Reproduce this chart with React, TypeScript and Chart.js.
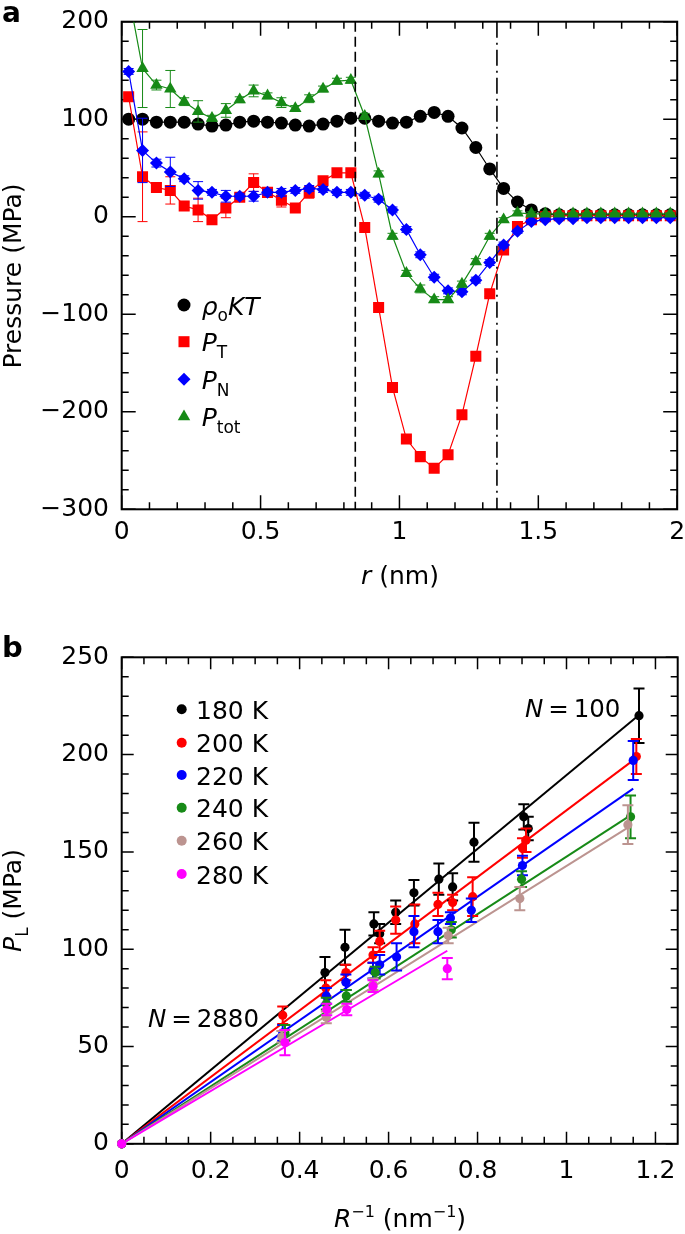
import React, { useEffect, useRef } from 'react';
import { Chart, registerables } from 'chart.js';

Chart.register(...registerables);

const FONT = '"DejaVu Sans", "Liberation Sans", Arial, sans-serif';
const W = 685;
const H_A = 617;
const H_B = 617;

// ---------------- Panel a data ----------------
const R_NM = [0.025, 0.075, 0.125, 0.175, 0.225, 0.275, 0.325, 0.375, 0.425, 0.475,
  0.525, 0.575, 0.625, 0.675, 0.725, 0.775, 0.825, 0.875, 0.925, 0.975,
  1.025, 1.075, 1.125, 1.175, 1.225, 1.275, 1.325, 1.375, 1.425, 1.475,
  1.525, 1.575, 1.625, 1.675, 1.725, 1.775, 1.825, 1.875, 1.925, 1.975];
const RHO_KT = [100, 100, 97, 97, 97, 95, 93, 94, 97, 98, 97, 96, 94, 93, 95, 98, 101, 101, 98, 96,
  97, 103, 107, 103, 91, 71, 49, 29, 15, 7, 3, 2, 2, 2, 2, 2, 2, 2, 2, 2];
const P_T = [123, 41, 30, 27, 11, 7, -3, 9, 20, 35, 25, 17, 9, 25, 37, 45, 45, -11, -93, -175,
  -228, -246, -258, -244, -203, -143, -79, -34, -10, -3, 0, 1, 1, 1, 1, 1, 1, 1, 1, 1];
const P_T_ERR = [3, 46, 4, 14, 4, 12, 3, 10, 3, 9, 3, 7, 3, 6, 3, 4, 3, 3, 3, 3,
  3, 3, 3, 3, 3, 4, 3, 3, 2, 2, 1, 1, 1, 1, 1, 1, 1, 1, 1, 1];
const P_N = [149, 68, 55, 46, 39, 27, 25, 21, 21, 21, 25, 25, 27, 29, 28, 25, 25, 22, 18, 7,
  -13, -39, -62, -76, -77, -65, -47, -29, -15, -5, -3, -2, -2, -1, -1, -1, -1, -1, -1, -1];
const P_N_ERR = [3, 33, 4, 15, 3, 9, 3, 6, 3, 5, 3, 4, 3, 3, 3, 3, 3, 3, 3, 3,
  3, 3, 3, 3, 3, 3, 3, 3, 2, 2, 1, 1, 1, 1, 1, 1, 1, 1, 1, 1];
const P_TOT = [228, 152, 135, 131, 118, 108, 101, 109, 120, 129, 124, 117, 111, 121, 131, 139, 140, 103, 44, -20,
  -58, -74, -85, -85, -69, -46, -20, -3, 4, 3, 3, 3, 3, 3, 3, 3, 3, 3, 3, 3];
const P_TOT_ERR = [5, 40, 5, 19, 4, 11, 3, 7, 3, 6, 3, 5, 3, 4, 3, 3, 3, 3, 3, 3,
  3, 4, 3, 3, 3, 3, 3, 2, 2, 2, 1, 1, 1, 1, 1, 1, 1, 1, 1, 1];
const DASHED_R = 0.841;
const DASHDOT_R = 1.351;
const A_X_MAJOR = [0, 0.5, 1, 1.5, 2];
const A_X_MINOR = [0.1, 0.2, 0.3, 0.4, 0.6, 0.7, 0.8, 0.9, 1.1, 1.2, 1.3, 1.4, 1.6, 1.7, 1.8, 1.9];
const A_Y_MAJOR = [-300, -200, -100, 0, 100, 200];
const A_Y_MINOR = [-280, -260, -240, -220, -180, -160, -140, -120, -80, -60, -40, -20,
  20, 40, 60, 80, 120, 140, 160, 180];

// ---------------- Panel b data ----------------
const TEMPS = ['180 K', '200 K', '220 K', '240 K', '260 K', '280 K'];
const B_COLORS = ['#000000', '#ff0000', '#0000ff', '#178a17', '#bc9490', '#ff00ff'];
const X_180 = [0, 0.457, 0.502, 0.567, 0.58, 0.616, 0.657, 0.713, 0.744, 0.792, 0.904, 0.914, 1.163];
const Y_180 = [0, 88, 101, 113, 108, 119, 129, 136, 132, 155, 168, 162, 220];
const E_180 = [0, 8, 9, 6, 5, 6, 6.5, 8, 7, 10, 6.5, 6, 14];
const X_200 = [0, 0.362, 0.459, 0.504, 0.565, 0.58, 0.616, 0.659, 0.711, 0.744, 0.789, 0.901, 0.909, 1.157];
const Y_200 = [0, 66, 80, 88, 97, 104, 115, 113, 123, 124, 127, 152, 156, 199];
const E_200 = [0, 4.5, 4, 4, 4, 5.5, 7, 10, 6, 4, 10, 5, 6, 9];
const X_220 = [0, 0.362, 0.46, 0.504, 0.565, 0.58, 0.618, 0.657, 0.711, 0.739, 0.786, 0.901, 1.15];
const Y_220 = [0, 57, 76, 83, 89, 92, 96, 109, 109, 116, 120, 143, 197];
const E_220 = [0, 4, 4, 4, 4, 5, 7, 8, 6, 3, 6, 5, 10];
const X_240 = [0, 0.367, 0.46, 0.505, 0.57, 0.741, 0.899, 1.144];
const Y_240 = [0, 57, 72, 76, 88, 110, 136, 168];
const E_240 = [0, 4, 3, 3, 3, 4, 4, 11];
const X_260 = [0, 0.36, 0.46, 0.565, 0.734, 0.895, 1.138];
const Y_260 = [0, 55, 65, 82, 107, 126, 164];
const E_260 = [0, 3, 3, 3, 4, 6, 10];
const X_280 = [0, 0.367, 0.461, 0.506, 0.565, 0.732];
const Y_280 = [0, 52, 69, 69, 81, 90];
const E_280 = [0, 6.5, 3, 3, 3, 5.5];
const FIT_X_END = [1.163, 1.146, 1.15, 1.142, 1.138, 0.732];
const FIT_Y_END = [220.3, 196.4, 182.5, 168.5, 162.5, 99.2];
const B_X_MAJOR = [0, 0.2, 0.4, 0.6, 0.8, 1, 1.2];
const B_X_MINOR = [0.05, 0.1, 0.15, 0.25, 0.3, 0.35, 0.45, 0.5, 0.55, 0.65, 0.7, 0.75,
  0.85, 0.9, 0.95, 1.05, 1.1, 1.15];
const B_Y_MAJOR = [0, 50, 100, 150, 200, 250];
const B_Y_MINOR = [10, 20, 30, 40, 60, 70, 80, 90, 110, 120, 130, 140, 160, 170, 180, 190,
  210, 220, 230, 240];

// ---------------- helpers ----------------
type Part = { t: string; size: number; italic?: boolean; bold?: boolean; dy?: number };

function fontStr(p: Part) {
  return `${p.italic ? 'italic ' : ''}${p.bold ? 'bold ' : ''}${p.size}px ${FONT}`;
}

function drawParts(ctx: CanvasRenderingContext2D, x: number, y: number, parts: Part[], align: 'left' | 'center' = 'left') {
  ctx.save();
  ctx.fillStyle = '#000';
  ctx.textBaseline = 'alphabetic';
  ctx.textAlign = 'left';
  let w = 0;
  for (const p of parts) {
    ctx.font = fontStr(p);
    w += ctx.measureText(p.t).width;
  }
  let cx = align === 'center' ? x - w / 2 : x;
  for (const p of parts) {
    ctx.font = fontStr(p);
    ctx.fillText(p.t, cx, y + (p.dy || 0));
    cx += ctx.measureText(p.t).width;
  }
  ctx.restore();
}

function drawMarker(ctx: CanvasRenderingContext2D, style: string, x: number, y: number, r: number, color: string) {
  ctx.save();
  ctx.fillStyle = color;
  ctx.beginPath();
  if (style === 'circle') {
    ctx.arc(x, y, r, 0, Math.PI * 2);
  } else if (style === 'rect') {
    const s = r * Math.SQRT1_2;
    ctx.rect(x - s, y - s, 2 * s, 2 * s);
  } else if (style === 'rectRot') {
    ctx.moveTo(x, y - r); ctx.lineTo(x + r, y); ctx.lineTo(x, y + r); ctx.lineTo(x - r, y); ctx.closePath();
  } else if (style === 'triangle') {
    for (let k = 0; k < 3; k++) {
      const a = (k * 2 * Math.PI) / 3;
      const px = x + Math.sin(a) * r;
      const py = y - Math.cos(a) * r;
      if (k === 0) ctx.moveTo(px, py); else ctx.lineTo(px, py);
    }
    ctx.closePath();
  }
  ctx.fill();
  ctx.restore();
}

function frameTicksPlugin(cfg: { xMajor: number[]; xMinor: number[]; yMajor: number[]; yMinor: number[]; maj: number; min: number }) {
  return {
    id: 'frameTicks',
    beforeDatasetsDraw(chart: any) {
      const { ctx, chartArea: ca, scales } = chart;
      const sx = scales.x;
      const sy = scales.y;
      ctx.save();
      ctx.strokeStyle = '#000';
      ctx.lineWidth = 1.5;
      ctx.beginPath();
      const addX = (v: number, len: number) => {
        const p = sx.getPixelForValue(v);
        ctx.moveTo(p, ca.bottom); ctx.lineTo(p, ca.bottom - len);
        ctx.moveTo(p, ca.top); ctx.lineTo(p, ca.top + len);
      };
      const addY = (v: number, len: number) => {
        const p = sy.getPixelForValue(v);
        ctx.moveTo(ca.left, p); ctx.lineTo(ca.left + len, p);
        ctx.moveTo(ca.right, p); ctx.lineTo(ca.right - len, p);
      };
      cfg.xMajor.forEach((v) => addX(v, cfg.maj));
      cfg.xMinor.forEach((v) => addX(v, cfg.min));
      cfg.yMajor.forEach((v) => addY(v, cfg.maj));
      cfg.yMinor.forEach((v) => addY(v, cfg.min));
      ctx.stroke();
      ctx.lineWidth = 2;
      ctx.strokeRect(ca.left, ca.top, ca.right - ca.left, ca.bottom - ca.top);
      ctx.restore();
    },
  };
}

type ErrSeries = { xs: number[]; ys: number[]; errs: number[]; color: string; width: number; cap: number };

function errorPlugin(map: Record<number, ErrSeries>) {
  return {
    id: 'errorBars',
    afterDatasetDraw(chart: any, args: any) {
      const s = map[args.index];
      if (!s) return;
      const { ctx, chartArea: ca, scales } = chart;
      ctx.save();
      ctx.beginPath();
      ctx.rect(ca.left, ca.top, ca.right - ca.left, ca.bottom - ca.top);
      ctx.clip();
      ctx.strokeStyle = s.color;
      ctx.lineWidth = s.width;
      ctx.beginPath();
      for (let i = 0; i < s.xs.length; i++) {
        const e = s.errs[i];
        if (!e) continue;
        const px = scales.x.getPixelForValue(s.xs[i]);
        const top = scales.y.getPixelForValue(s.ys[i] + e);
        const bot = scales.y.getPixelForValue(s.ys[i] - e);
        ctx.moveTo(px, top); ctx.lineTo(px, bot);
        ctx.moveTo(px - s.cap, top); ctx.lineTo(px + s.cap, top);
        ctx.moveTo(px - s.cap, bot); ctx.lineTo(px + s.cap, bot);
      }
      ctx.stroke();
      ctx.restore();
    },
  };
}

const minusFmt = (v: any) => {
  const n = Number(v);
  return n < 0 ? '\u2212' + String(Math.abs(n)) : String(n);
};

function scaleOpts(opts: {
  min: number; max: number; ticks: number[]; pad: number; size?: number; fit: (s: any) => void;
}) {
  return {
    type: 'linear' as const,
    min: opts.min,
    max: opts.max,
    grid: { display: false, drawTicks: false },
    border: { display: false },
    afterBuildTicks: (s: any) => {
      s.ticks = opts.ticks.map((v) => ({ value: v }));
    },
    afterFit: (s: any) => {
      opts.fit(s);
      s.paddingLeft = 0;
      s.paddingRight = 0;
      s.paddingTop = 0;
      s.paddingBottom = 0;
    },
    ticks: {
      font: { family: FONT, size: opts.size || 25 },
      color: '#000',
      padding: opts.pad,
      maxRotation: 0,
      minRotation: 0,
      autoSkip: false,
      callback: minusFmt,
    },
  };
}

// ---------------- Panel a ----------------
function buildA(canvas: HTMLCanvasElement) {
  const pts = (ys: number[]) => ys.map((y, i) => ({ x: R_NM[i], y }));
  const ds = (label: string, ys: number[], color: string, style: string, radius: number, order: number) => ({
    type: 'line' as const,
    label,
    data: pts(ys),
    borderColor: color,
    backgroundColor: color,
    borderWidth: 1.2,
    pointStyle: style,
    pointRadius: radius,
    pointBorderWidth: 0,
    pointBackgroundColor: color,
    pointBorderColor: color,
    tension: 0,
    fill: false,
    order,
  });
  const GREEN = '#178a17';
  const RED = '#ff0000';
  const BLUE = '#0000ff';

  const annot = {
    id: 'annotA',
    afterDatasetsDraw(chart: any) {
      const { ctx, chartArea: ca, scales } = chart;
      ctx.save();
      ctx.strokeStyle = '#000';
      ctx.lineWidth = 1.6;
      const xd = scales.x.getPixelForValue(DASHED_R);
      ctx.setLineDash([10, 5]);
      ctx.beginPath(); ctx.moveTo(xd, ca.top); ctx.lineTo(xd, ca.bottom); ctx.stroke();
      const xdd = scales.x.getPixelForValue(DASHDOT_R);
      ctx.setLineDash([16, 5, 2, 5]);
      ctx.beginPath(); ctx.moveTo(xdd, ca.top); ctx.lineTo(xdd, ca.bottom); ctx.stroke();
      ctx.restore();
    },
    afterDraw(chart: any) {
      const { ctx } = chart;
      drawParts(ctx, 2, 22, [{ t: 'a', size: 28, bold: true }]);
      // y title
      ctx.save();
      ctx.translate(21, 276);
      ctx.rotate(-Math.PI / 2);
      drawParts(ctx, 0, 0, [{ t: 'Pressure (MPa)', size: 25 }], 'center');
      ctx.restore();
      // x title
      drawParts(ctx, 400, 584, [{ t: 'r', size: 25, italic: true }, { t: ' (nm)', size: 25 }], 'center');
      // legend
      const rows = [305, 341.7, 379.3, 416.7];
      const mk = [
        ['circle', 6.5, '#000'],
        ['rect', 7.8, RED],
        ['rectRot', 6.5, BLUE],
        ['triangle', 7.2, GREEN],
      ] as const;
      const texts: Part[][] = [
        [{ t: '\u03c1', size: 25, italic: true }, { t: 'o', size: 17, dy: 6 }, { t: 'KT', size: 25, italic: true }],
        [{ t: 'P', size: 25, italic: true }, { t: 'T', size: 17, dy: 7 }],
        [{ t: 'P', size: 25, italic: true }, { t: 'N', size: 17, dy: 7 }],
        [{ t: 'P', size: 25, italic: true }, { t: 'tot', size: 17, dy: 7 }],
      ];
      rows.forEach((y, i) => {
        drawMarker(ctx, mk[i][0], 184, y, mk[i][1], mk[i][2]);
        drawParts(ctx, 201.7, y + 9.5, texts[i]);
      });
    },
  };

  return new Chart(canvas, {
    type: 'line',
    data: {
      datasets: [
        ds('PT', P_T, RED, 'rect', 7.8, 3),
        ds('rhoKT', RHO_KT, '#000000', 'circle', 6.5, 4),
        ds('PN', P_N, BLUE, 'rectRot', 6.5, 2),
        ds('Ptot', P_TOT, GREEN, 'triangle', 7.2, 1),
      ] as any,
    },
    options: {
      responsive: false,
      animation: false,
      devicePixelRatio: 1,
      events: [],
      layout: { padding: { left: 0, right: 6.7, top: 21.7, bottom: 0 } },
      plugins: { legend: { display: false }, tooltip: { enabled: false }, title: { display: false } },
      scales: {
        x: scaleOpts({ min: 0, max: 2, ticks: A_X_MAJOR, pad: 8, fit: (s) => { s.height = H_A - 509.3; } }),
        y: scaleOpts({ min: -300, max: 200, ticks: A_Y_MAJOR, pad: 12.7, fit: (s) => { s.width = 121.7; } }),
      } as any,
    },
    plugins: [
      frameTicksPlugin({ xMajor: A_X_MAJOR, xMinor: A_X_MINOR, yMajor: A_Y_MAJOR, yMinor: A_Y_MINOR, maj: 14, min: 7 }),
      errorPlugin({
        0: { xs: R_NM, ys: P_T, errs: P_T_ERR, color: RED, width: 1, cap: 5 },
        2: { xs: R_NM, ys: P_N, errs: P_N_ERR, color: BLUE, width: 1, cap: 5 },
        3: { xs: R_NM, ys: P_TOT, errs: P_TOT_ERR, color: GREEN, width: 1, cap: 5 },
      }),
      annot,
    ] as any,
  });
}

// ---------------- Panel b ----------------
function buildB(canvas: HTMLCanvasElement) {
  const XS = [X_180, X_200, X_220, X_240, X_260, X_280];
  const YS = [Y_180, Y_200, Y_220, Y_240, Y_260, Y_280];
  const ES = [E_180, E_200, E_220, E_240, E_260, E_280];
  const OFF = 617;

  const scatterSets = TEMPS.map((t, i) => ({
    type: 'scatter' as const,
    label: t,
    data: XS[i].map((x, j) => ({ x, y: YS[i][j] })),
    backgroundColor: B_COLORS[i],
    borderColor: B_COLORS[i],
    pointRadius: 4.6,
    pointBorderWidth: 0,
    showLine: false,
    clip: false,
    order: 6 - i,
  }));
  const fitSets = TEMPS.map((t, i) => ({
    type: 'line' as const,
    label: 'fit ' + t,
    data: [{ x: 0, y: 0 }, { x: FIT_X_END[i], y: FIT_Y_END[i] }],
    borderColor: B_COLORS[i],
    borderWidth: 2,
    pointRadius: 0,
    tension: 0,
    fill: false,
    order: 20 - i,
  }));

  const errMap: Record<number, ErrSeries> = {};
  TEMPS.forEach((_, i) => {
    errMap[i] = { xs: XS[i], ys: YS[i], errs: ES[i], color: B_COLORS[i], width: 2, cap: 5.5 };
  });

  const annot = {
    id: 'annotB',
    afterDraw(chart: any) {
      const { ctx } = chart;
      drawParts(ctx, 2, 656.7 - OFF, [{ t: 'b', size: 29, bold: true }]);
      ctx.save();
      ctx.translate(21, 900.5 - OFF);
      ctx.rotate(-Math.PI / 2);
      drawParts(ctx, 0, 0, [
        { t: 'P', size: 25, italic: true },
        { t: 'L', size: 17, dy: 7 },
        { t: ' (MPa)', size: 25 },
      ], 'center');
      ctx.restore();
      drawParts(ctx, 400, 1226.7 - OFF, [
        { t: 'R', size: 25, italic: true },
        { t: '\u22121', size: 16, dy: -10 },
        { t: ' (nm', size: 25 },
        { t: '\u22121', size: 16, dy: -10 },
        { t: ')', size: 25 },
      ], 'center');
      const rows = [709.3, 742.7, 775, 807.7, 840.7, 874];
      rows.forEach((y, i) => {
        drawMarker(ctx, 'circle', 181.7, y - OFF, 5, B_COLORS[i]);
        drawParts(ctx, 196, y - OFF + 9.5, [{ t: TEMPS[i], size: 25 }]);
      });
      drawParts(ctx, 525, 717.3 - OFF, [
        { t: 'N', size: 24.5, italic: true },
        { t: '\u2009=\u2009100', size: 24.5 },
      ]);
      drawParts(ctx, 148, 1026.7 - OFF, [
        { t: 'N', size: 24.5, italic: true },
        { t: '\u2009=\u20092880', size: 24.5 },
      ]);
    },
  };

  return new Chart(canvas, {
    type: 'scatter',
    data: { datasets: [...scatterSets, ...fitSets] as any },
    options: {
      responsive: false,
      animation: false,
      devicePixelRatio: 1,
      events: [],
      layout: { padding: { left: 0, right: 7.3, top: 657.3 - OFF, bottom: 0 } },
      plugins: { legend: { display: false }, tooltip: { enabled: false }, title: { display: false } },
      scales: {
        x: scaleOpts({ min: 0, max: 1.25, ticks: B_X_MAJOR, pad: 13, fit: (s) => { s.height = H_B - (1143.8 - OFF); } }),
        y: scaleOpts({ min: 0, max: 250, ticks: B_Y_MAJOR, pad: 12.7, fit: (s) => { s.width = 121.7; } }),
      } as any,
    },
    plugins: [
      frameTicksPlugin({ xMajor: B_X_MAJOR, xMinor: B_X_MINOR, yMajor: B_Y_MAJOR, yMinor: B_Y_MINOR, maj: 12, min: 7 }),
      errorPlugin(errMap),
      annot,
    ] as any,
  });
}

export default function App() {
  const refA = useRef<HTMLCanvasElement>(null);
  const refB = useRef<HTMLCanvasElement>(null);
  useEffect(() => {
    const a = buildA(refA.current as HTMLCanvasElement);
    const b = buildB(refB.current as HTMLCanvasElement);
    return () => {
      a.destroy();
      b.destroy();
    };
  }, []);
  return (
    <div style={{ position: 'absolute', left: 0, top: 0, width: W, height: H_A + H_B, background: '#fff' }}>
      <canvas ref={refA} width={W} height={H_A} style={{ display: 'block', width: W, height: H_A }} />
      <canvas ref={refB} width={W} height={H_B} style={{ display: 'block', width: W, height: H_B }} />
    </div>
  );
}
